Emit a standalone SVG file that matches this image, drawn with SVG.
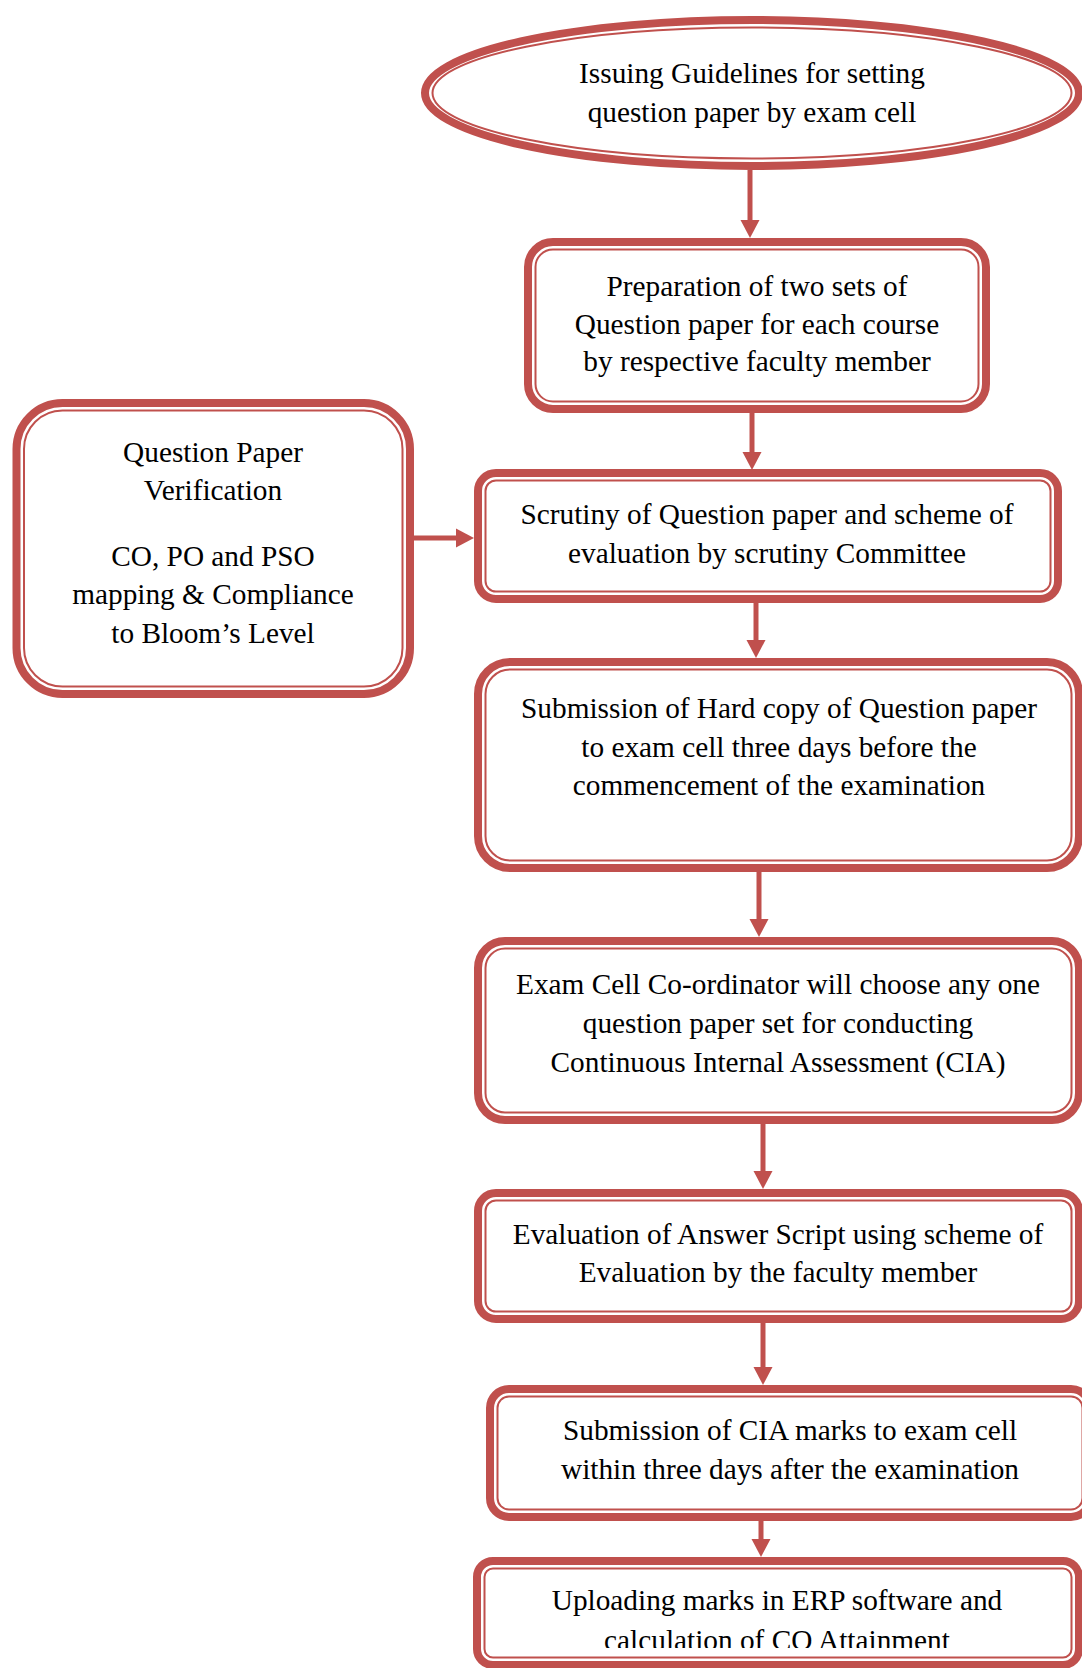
<svg xmlns="http://www.w3.org/2000/svg" width="1082" height="1668" viewBox="0 0 1082 1668">
  <style>
    .thick { fill: #ffffff; stroke: #C0504D; stroke-width: 8; }
    .thin { fill: none; stroke: #C0504D; stroke-width: 2; }
    .wire { fill: none; stroke: #C0504D; stroke-width: 5; }
    text { font-family: "Liberation Serif", "Times New Roman", serif; font-size: 29.3px; fill: #000000; text-anchor: middle; }
  </style>
  <defs>
    <marker id="head" markerUnits="userSpaceOnUse" markerWidth="20" markerHeight="20" viewBox="0 0 20 20" refX="8" refY="10" orient="auto">
      <path d="M0,0.5 L18,10 L0,19.5 Z" fill="#C0504D"/>
    </marker>
    <clipPath id="lastClip">
      <rect x="470" y="1550" width="612" height="98"/>
    </clipPath>
  </defs>

  <rect width="1082" height="1668" fill="#ffffff"/>

  <!-- connectors -->
  <g id="connectors">
    <line class="wire" x1="750" y1="170" x2="750" y2="228" marker-end="url(#head)"/>
    <line class="wire" x1="752" y1="413" x2="752" y2="460" marker-end="url(#head)"/>
    <line class="wire" x1="414" y1="538" x2="464" y2="538" marker-end="url(#head)"/>
    <line class="wire" x1="756" y1="603" x2="756" y2="648" marker-end="url(#head)"/>
    <line class="wire" x1="759" y1="872" x2="759" y2="927" marker-end="url(#head)"/>
    <line class="wire" x1="763" y1="1124" x2="763" y2="1179" marker-end="url(#head)"/>
    <line class="wire" x1="763" y1="1323" x2="763" y2="1375" marker-end="url(#head)"/>
    <line class="wire" x1="761" y1="1521" x2="761" y2="1547" marker-end="url(#head)"/>
  </g>

  <!-- start: guidelines -->
  <g id="n-guidelines">
    <ellipse class="thick" cx="752" cy="93" rx="327" ry="73"/>
    <ellipse class="thin" cx="752" cy="93" rx="319.5" ry="65.5"/>
    <text x="752" y="83">Issuing Guidelines for setting</text>
    <text x="752" y="122">question paper by exam cell</text>
  </g>

  <g id="n-preparation">
    <rect class="thick" x="528" y="242" width="458" height="167" rx="25"/>
    <rect class="thin" x="535.5" y="249.5" width="443" height="152" rx="17.5"/>
    <text x="757" y="296">Preparation of two sets of</text>
    <text x="757" y="334">Question paper for each course</text>
    <text x="757" y="371">by respective faculty member</text>
  </g>

  <g id="n-verification">
    <rect class="thick" x="16.5" y="403" width="393.5" height="291" rx="46"/>
    <rect class="thin" x="24" y="410.5" width="378.5" height="276" rx="38.5"/>
    <text x="213" y="462">Question Paper</text>
    <text x="213" y="500">Verification</text>
    <text x="213" y="566">CO, PO and PSO</text>
    <text x="213" y="604">mapping &amp; Compliance</text>
    <text x="213" y="643">to Bloom’s Level</text>
  </g>

  <g id="n-scrutiny">
    <rect class="thick" x="478" y="473" width="580" height="126" rx="18"/>
    <rect class="thin" x="485.5" y="480.5" width="565" height="111" rx="10.5"/>
    <text x="767" y="524">Scrutiny of Question paper and scheme of</text>
    <text x="767" y="563">evaluation by scrutiny Committee</text>
  </g>

  <g id="n-hardcopy">
    <rect class="thick" x="478" y="662" width="601" height="206" rx="32"/>
    <rect class="thin" x="485.5" y="669.5" width="586" height="191" rx="24.5"/>
    <text x="779" y="718">Submission of Hard copy of Question paper</text>
    <text x="779" y="757">to exam cell three days before the</text>
    <text x="779" y="795">commencement of the examination</text>
  </g>

  <g id="n-choose">
    <rect class="thick" x="478" y="941" width="601" height="179" rx="27"/>
    <rect class="thin" x="485.5" y="948.5" width="586" height="164" rx="19.5"/>
    <text x="778" y="994">Exam Cell Co-ordinator will choose any one</text>
    <text x="778" y="1033">question paper set for conducting</text>
    <text x="778" y="1072">Continuous Internal Assessment (CIA)</text>
  </g>

  <g id="n-evaluation">
    <rect class="thick" x="478" y="1193" width="601" height="126" rx="18"/>
    <rect class="thin" x="485.5" y="1200.5" width="586" height="111" rx="10.5"/>
    <text x="778" y="1244">Evaluation of Answer Script using scheme of</text>
    <text x="778" y="1282">Evaluation by the faculty member</text>
  </g>

  <g id="n-marks">
    <rect class="thick" x="490" y="1389" width="600" height="128" rx="19"/>
    <rect class="thin" x="497.5" y="1396.5" width="585" height="113" rx="11.5"/>
    <text x="790" y="1440">Submission of CIA marks to exam cell</text>
    <text x="790" y="1479">within three days after the examination</text>
  </g>

  <g id="n-upload">
    <rect class="thick" x="477" y="1561" width="602" height="104" rx="16"/>
    <rect class="thin" x="484.5" y="1568.5" width="587" height="89" rx="8.5"/>
    <g clip-path="url(#lastClip)">
      <text x="777" y="1610">Uploading marks in ERP software and</text>
      <text x="777" y="1650">calculation of CO Attainment</text>
    </g>
  </g>
</svg>
